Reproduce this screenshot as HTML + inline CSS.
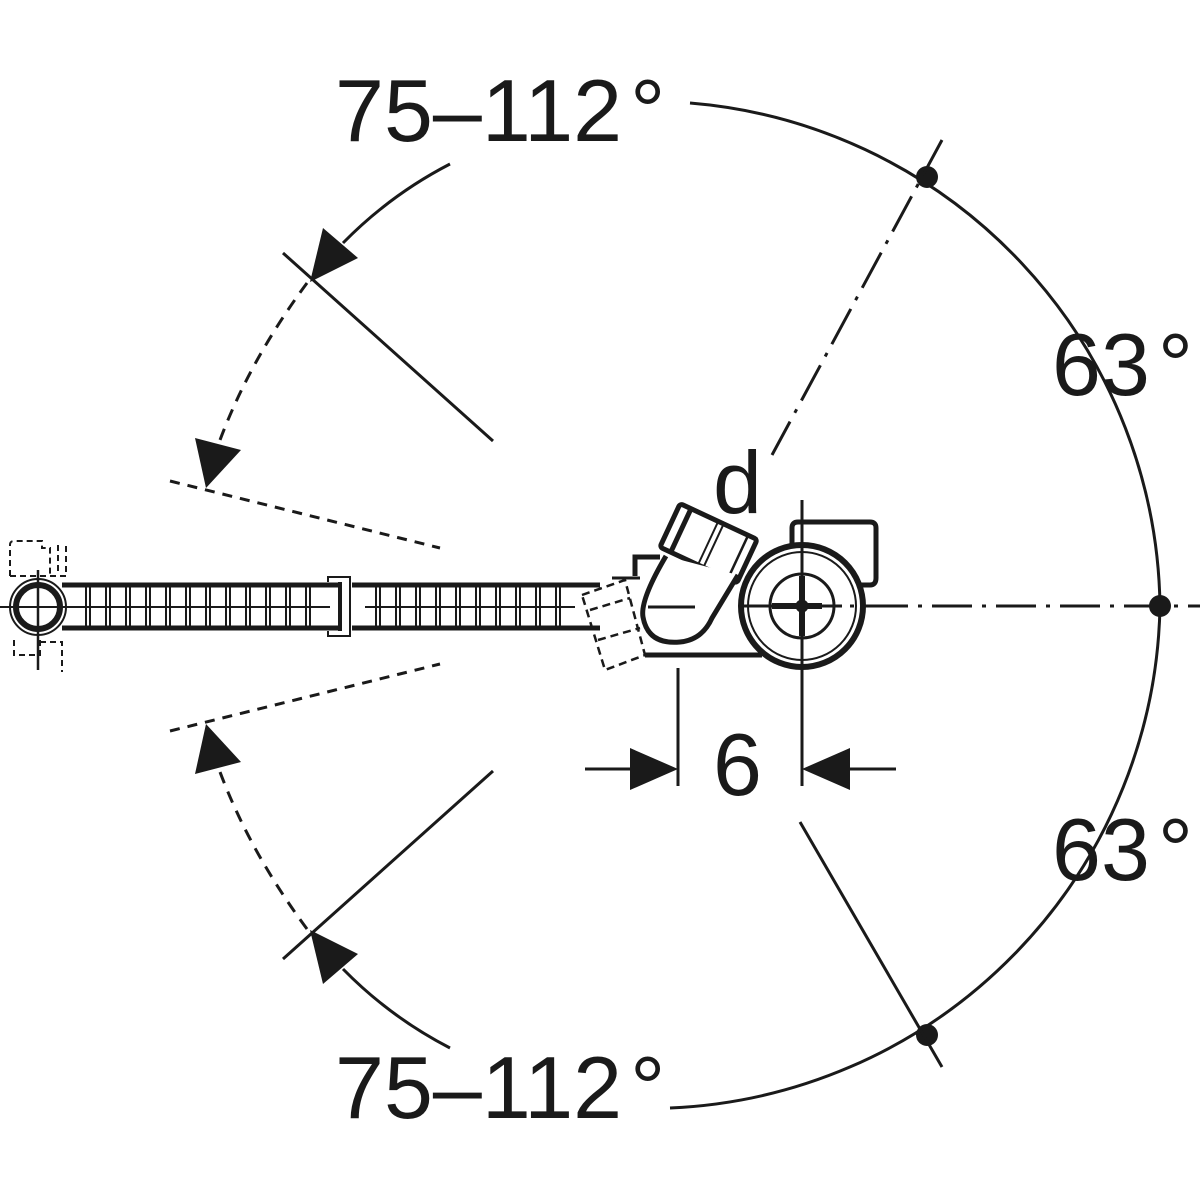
<!DOCTYPE html>
<html><head><style>html,body{margin:0;padding:0;background:#fff}svg{display:block}</style></head>
<body>
<svg width="1200" height="1200" viewBox="0 0 1200 1200" xmlns="http://www.w3.org/2000/svg" font-family="Liberation Sans, sans-serif" fill="none" stroke="#1a1a1a">
<path d="M690,103 A512,512 0 0 1 1160,606 A512,512 0 0 1 670,1108" stroke-width="3"/>
<circle cx="927" cy="177" r="11" fill="#1a1a1a" stroke="none"/>
<circle cx="1160" cy="606" r="11" fill="#1a1a1a" stroke="none"/>
<circle cx="927" cy="1035" r="11" fill="#1a1a1a" stroke="none"/>
<line x1="942" y1="140" x2="772" y2="455" stroke-width="3" stroke-dasharray="40,10,4,10"/>
<line x1="868" y1="606" x2="1200" y2="606" stroke-width="3" stroke-dasharray="40,10,4,10"/>
<line x1="800" y1="822" x2="942" y2="1067" stroke-width="3"/>
<line x1="283" y1="253" x2="493" y2="441" stroke-width="3"/>
<line x1="170" y1="481" x2="440" y2="548" stroke-width="3" stroke-dasharray="10,8"/>
<line x1="283" y1="959" x2="493" y2="771" stroke-width="3"/>
<line x1="170" y1="731" x2="440" y2="664" stroke-width="3" stroke-dasharray="10,8"/>
<path d="M450,164 Q390,195 343,243" stroke-width="3"/>
<polygon points="310,282 323,228 358,258" fill="#1a1a1a" stroke="none"/>
<path d="M307,283 Q250,360 220,440" stroke-width="3" stroke-dasharray="12,9"/>
<polygon points="206,488 195,438 241,450" fill="#1a1a1a" stroke="none"/>
<path d="M450,1048 Q390,1017 343,969" stroke-width="3"/>
<polygon points="310,930 323,984 358,954" fill="#1a1a1a" stroke="none"/>
<path d="M307,929 Q250,852 220,772" stroke-width="3" stroke-dasharray="12,9"/>
<polygon points="206,724 195,774 241,762" fill="#1a1a1a" stroke="none"/>
<line x1="678" y1="668" x2="678" y2="786" stroke-width="3"/>
<line x1="802" y1="668" x2="802" y2="786" stroke-width="3"/>
<line x1="585" y1="769" x2="640" y2="769" stroke-width="3"/>
<polygon points="678,769 630,748 630,790" fill="#1a1a1a" stroke="none"/>
<line x1="840" y1="769" x2="896" y2="769" stroke-width="3"/>
<polygon points="802,769 850,748 850,790" fill="#1a1a1a" stroke="none"/>
<g stroke-width="5">
<line x1="62" y1="585" x2="340" y2="585"/><line x1="62" y1="628" x2="340" y2="628"/>
<line x1="352" y1="585" x2="600" y2="585"/><line x1="352" y1="628" x2="600" y2="628"/>
</g>
<g stroke-width="2">
<path d="M86,585V628M90,585V628M106,585V628M110,585V628M126,585V628M130,585V628M146,585V628M150,585V628M166,585V628M170,585V628M186,585V628M190,585V628M206,585V628M210,585V628M226,585V628M230,585V628M246,585V628M250,585V628M266,585V628M270,585V628M286,585V628M290,585V628M306,585V628M310,585V628"/>
<path d="M376,585V628M380,585V628M396,585V628M400,585V628M416,585V628M420,585V628M436,585V628M440,585V628M456,585V628M460,585V628M476,585V628M480,585V628M496,585V628M500,585V628M516,585V628M520,585V628M536,585V628M540,585V628M556,585V628M560,585V628"/>
<line x1="70" y1="607" x2="330" y2="607"/><line x1="365" y1="607" x2="575" y2="607"/>
<path d="M328,582V577H350V636H328V631"/>
</g>
<line x1="340" y1="582" x2="340" y2="631" stroke-width="4"/>
<circle cx="38" cy="607" r="22" stroke-width="6"/>
<circle cx="38" cy="607" r="28" stroke-width="2"/>
<line x1="0" y1="607" x2="75" y2="607" stroke-width="2"/>
<line x1="38" y1="570" x2="38" y2="670" stroke-width="2.5"/>
<path d="M10,576V545Q10,541 14,541H42V548H50V575M10,576H66V545M58,545V575M14,640V655H40V640M40,642H62V672" stroke-width="2" stroke-dasharray="6,4"/>
<g stroke-width="2.5" stroke-dasharray="8,5">
<path d="M582,595 L625,580 L645,655 L605,670 Z"/>
<path d="M590,610 L630,598"/><path d="M598,640 L640,628"/>
</g>
<path d="M792,580V528Q792,522 798,522H870Q876,522 876,528V578Q876,585 870,585H858" stroke-width="5"/>
<path d="M635,576V557H660" stroke-width="5"/>
<path d="M612,578H640" stroke-width="3"/>
<line x1="645" y1="655" x2="762" y2="655" stroke-width="5"/>
<g transform="rotate(25 705 545)" stroke-width="5">
<rect x="665" y="518" width="85" height="48" rx="3" fill="#fff"/>
<line x1="677" y1="518" x2="677" y2="566"/>
<line x1="707" y1="518" x2="707" y2="566" stroke-width="2"/><line x1="713" y1="518" x2="713" y2="566" stroke-width="2"/>
<line x1="740" y1="518" x2="740" y2="566" stroke-width="2.5"/>
</g>
<path d="M666,556 Q640,600 643,617 Q648,645 680,642 Q702,640 712,618 L738,575" stroke-width="5" fill="#fff"/>
<line x1="648" y1="607" x2="695" y2="607" stroke-width="3"/>
<circle cx="802" cy="606" r="61" stroke-width="6" fill="#fff"/>
<circle cx="802" cy="606" r="54" stroke-width="2"/>
<circle cx="802" cy="606" r="32" stroke-width="3"/>
<circle cx="802" cy="606" r="5" stroke-width="3"/>
<line x1="802" y1="500" x2="802" y2="670" stroke-width="3"/>
<line x1="742" y1="606" x2="868" y2="606" stroke-width="3" stroke-dasharray="40,8,4,8"/>
<path d="M772,606H822M802,576V636" stroke-width="6"/>
<g fill="#1a1a1a" stroke="none" font-size="88">
<text x="335" y="141">75–112<tspan dx="8">°</tspan></text>
<text x="335" y="1118">75–112<tspan dx="8">°</tspan></text>
<text x="1052" y="395">63<tspan dx="8">°</tspan></text>
<text x="1052" y="880">63<tspan dx="8">°</tspan></text>
<text x="713" y="513">d</text>
<text x="713" y="795">6</text>
</g>
</svg>
</body></html>
